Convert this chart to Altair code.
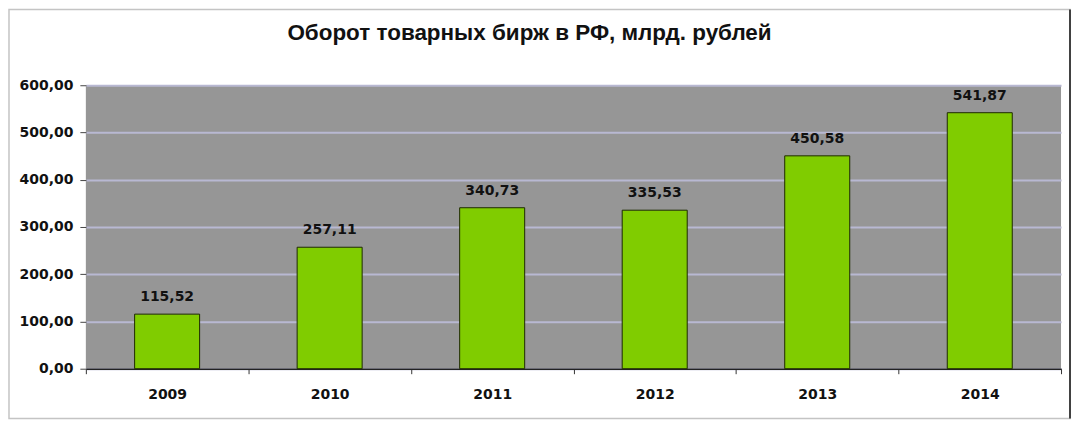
import altair as alt
import pandas as pd

years = ["2009", "2010", "2011", "2012", "2013", "2014"]
values = [115.52, 257.11, 340.73, 335.53, 450.58, 541.87]
y_ticks = [0, 100, 200, 300, 400, 500, 600]
title_text = "Оборот товарных бирж в РФ, млрд. рублей"

df = pd.DataFrame({"year": years, "value": values})

W = 977
H = 284
FONT = "DejaVu Sans"

x_enc = alt.X(
    "year:N",
    sort=years,
    title=None,
    scale=alt.Scale(paddingInner=0, paddingOuter=0),
    axis=alt.Axis(
        labelAngle=0,
        labelFont=FONT,
        labelFontWeight="bold",
        labelFontSize=14,
        labelColor="#111111",
        labelPadding=14,
        tickBand="extent",
        tickSize=5,
        tickColor="#333333",
        domainColor="#222222",
        domainWidth=1.5,
        grid=False,
    ),
)

y_enc = alt.Y(
    "value:Q",
    title=None,
    scale=alt.Scale(domain=[0, 600], nice=False),
    axis=alt.Axis(
        values=y_ticks,
        labelExpr="replace(format(datum.value, '.2f'), '.', ',')",
        labelFont=FONT,
        labelFontWeight="bold",
        labelFontSize=14,
        labelColor="#111111",
        labelPadding=7,
        tickSize=6,
        tickColor="#444444",
        domain=False,
        grid=True,
        gridColor="#b8b8d2",
        gridWidth=2,
    ),
)

bars = alt.Chart(df).mark_bar(
    width={"band": 0.4},
    color="#80cc00",
    stroke="#1e2a00",
    strokeWidth=1,
).encode(x=x_enc, y=y_enc)

labels = alt.Chart(df).transform_calculate(
    lab="replace(format(datum.value, '.2f'), '.', ',')"
).mark_text(
    baseline="bottom",
    dy=-10,
    font=FONT,
    fontWeight="bold",
    fontSize=14,
    color="#111111",
).encode(x=alt.X("year:N", sort=years), y="value:Q", text="lab:N")

frame_df = pd.DataFrame({"k": [0]})
frame = alt.Chart(frame_df).mark_rect(
    fill=None, stroke="#c4c4c4", strokeWidth=1.5
).encode(
    x=alt.value(-77),
    x2=alt.value(W + 9),
    y=alt.value(-76),
    y2=alt.value(H + 50),
)
right_edge = alt.Chart(frame_df).mark_rule(color="#111111", strokeWidth=1.5).encode(
    x=alt.value(W + 9),
    y=alt.value(-76),
    y2=alt.value(H + 50),
)

chart = (
    alt.layer(frame, right_edge, bars, labels)
    .properties(
        width=W,
        height=H,
        padding={"left": 78, "top": 77, "right": 11, "bottom": 53},
        autosize=alt.AutoSizeParams(type="none"),
        title=alt.TitleParams(
            text=title_text,
            font="Liberation Sans",
            fontSize=22.5,
            fontWeight="bold",
            color="#111111",
            anchor="middle",
            frame="group",
            dx=-44,
            offset=-36,
        ),
        background="white",
    )
    .configure_view(fill="#969696", stroke=None)
)

chart.save("out.html", embed_options={"renderer": "svg", "actions": False})
